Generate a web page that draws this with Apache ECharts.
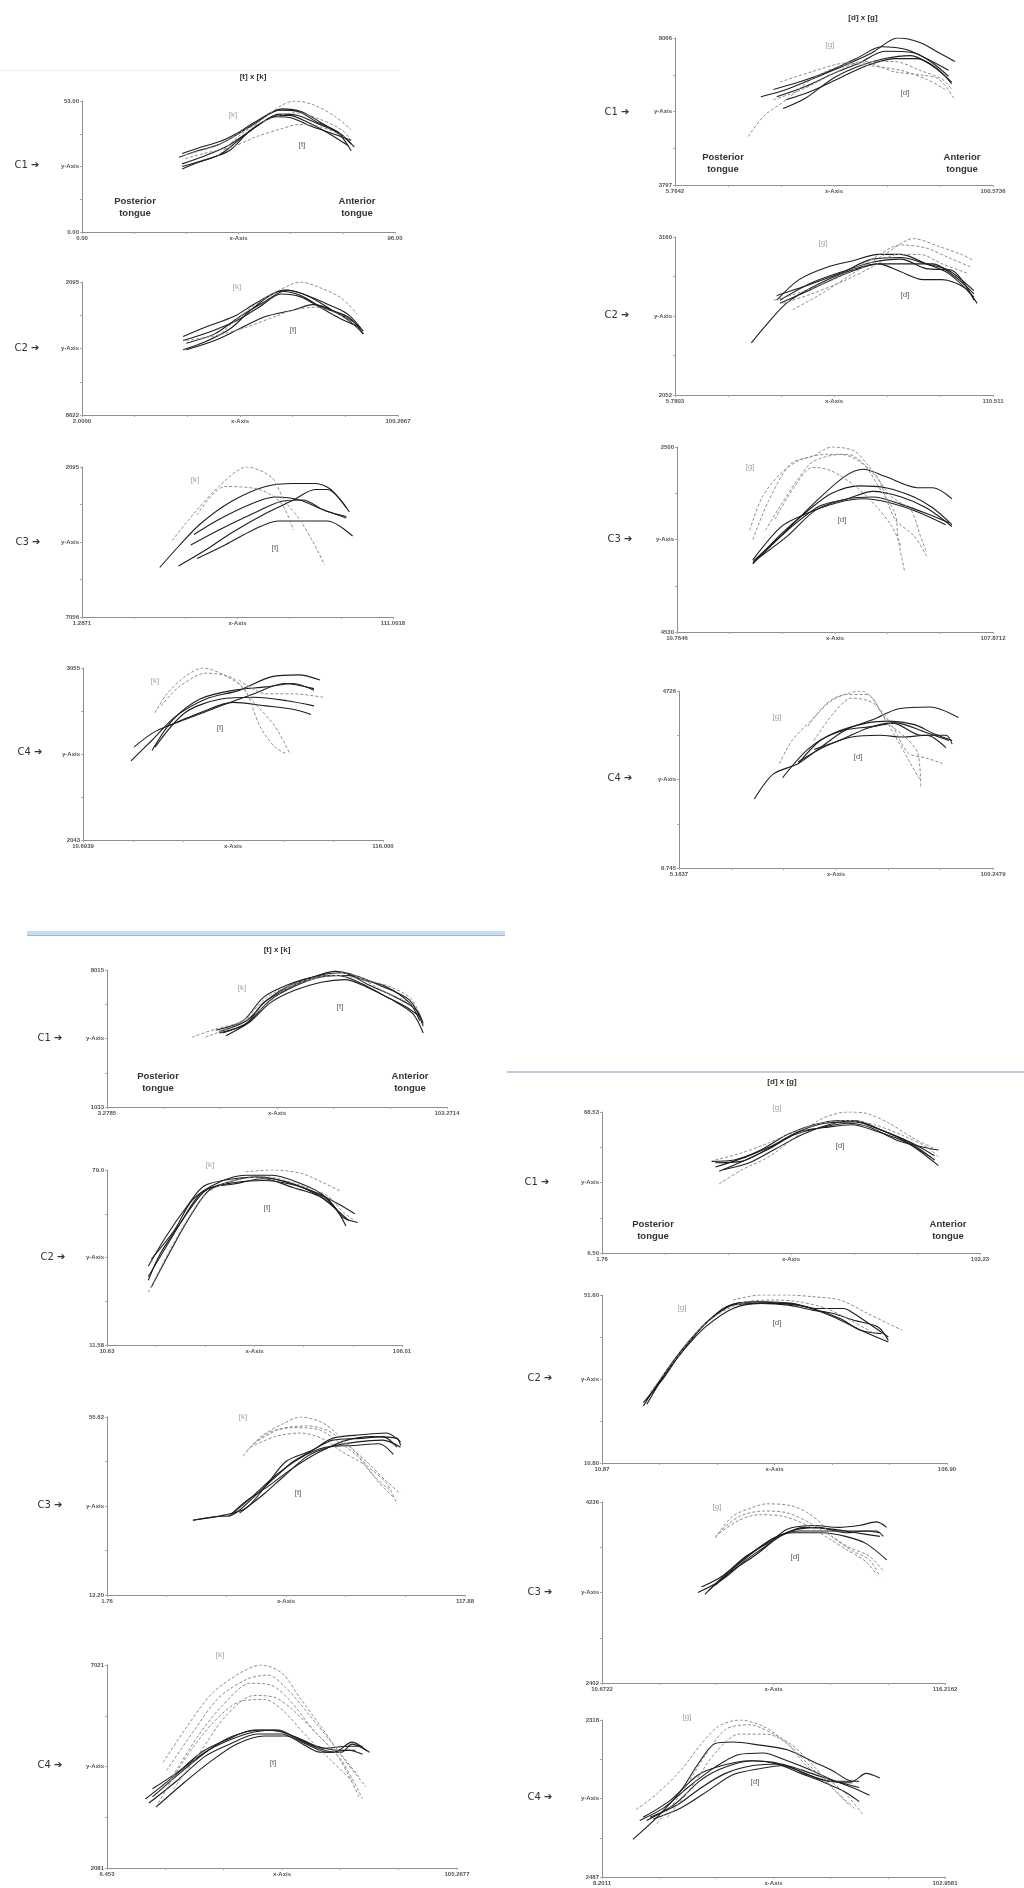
<!DOCTYPE html>
<html><head><meta charset="utf-8">
<script src="https://cdn.jsdelivr.net/npm/echarts/dist/echarts.min.js"></script>
<style>html,body{margin:0;padding:0;background:#fff}#c{width:1024px;height:1888px}</style>
</head><body><div id="c"></div>
<script>
// ===== Tongue contours, values in % of each panel's x / y range =====
// ---- Top block, [t] x [k] ----
const tkTopC1_t = [
 [[31,57],[37,62],[44,67],[50,75],[56,84],[63,93],[69,92],[75,84],[82,76],[87,65]],
 [[32,48],[37,53],[44,59],[50,70],[56,81],[63,90],[69,89],[75,83],[82,75],[86,62]],
 [[32,60],[37,64],[44,69],[50,76],[56,85],[64,94],[70,92],[76,84],[83,74],[86,67]],
 [[32,50],[39,55],[47,62],[54,78],[62,88],[67,87],[73,81],[79,76],[86,70]],
 [[32,52],[38,57],[46,65],[53,76],[61,88],[66,89],[72,84],[79,75],[85,66]]
];
const tkTopC1_k = [
 [[33,56],[39,60],[48,65],[56,73],[64,79],[69,82],[75,81],[82,75],[86,69]],
 [[43,57],[50,73],[57,85],[64,97],[68,100],[74,97],[81,88],[86,78]],
 [[33,59],[43,66],[52,78],[62,88],[68,91],[75,87],[83,78],[86,70]]
];
const tkTopC2_t = [
 [[32,59],[39,66],[48,74],[55,84],[64,94],[70,91],[77,84],[84,76],[89,63]],
 [[32,49],[39,55],[47,65],[54,80],[63,93],[69,90],[76,81],[84,74],[88,65]],
 [[33,54],[42,61],[50,74],[57,84],[65,94],[72,89],[79,79],[86,70],[89,61]],
 [[33,49],[42,56],[50,65],[58,74],[67,79],[73,83],[79,79],[85,70],[89,61]],
 [[32,56],[41,63],[49,71],[56,81],[63,91],[69,89],[76,80],[83,71],[88,66]]
];
const tkTopC2_k = [
 [[33,56],[43,60],[52,66],[61,74],[67,79],[74,81],[81,76],[85,71]],
 [[43,59],[51,76],[58,88],[66,98],[69,100],[75,96],[82,88],[87,76]]
];
const tkTopC3_t = [
 [[25,33],[31,47],[38,62],[48,77],[59,87],[68,89],[75,89],[80,85],[86,70]],
 [[31,34],[40,45],[48,56],[59,69],[68,78],[75,85],[79,85],[85,73]],
 [[36,55],[44,65],[54,75],[62,80],[70,78],[77,72],[85,66]],
 [[35,48],[44,58],[55,69],[64,77],[71,78],[78,71],[85,67]],
 [[37,39],[46,48],[55,58],[63,64],[72,64],[79,64],[87,54]]
];
const tkTopC3_k = [
 [[29,51],[36,69],[44,87],[53,100],[61,93],[65,78],[70,65],[74,51],[78,35]],
 [[37,68],[46,87],[57,85],[64,76],[68,58]]
];
const tkTopC4_t = [
 [[16,46],[23,58],[31,72],[41,82],[52,87],[63,95],[72,96],[79,93]],
 [[17,54],[24,63],[34,70],[46,78],[57,85],[67,91],[77,88]],
 [[23,52],[30,70],[39,82],[50,87],[61,89],[70,91],[77,87]],
 [[24,54],[34,74],[46,82],[57,83],[68,81],[77,78]],
 [[28,66],[39,74],[50,80],[61,78],[70,76],[76,73]]
];
const tkTopC4_k = [
 [[24,74],[28,85],[34,95],[40,100],[48,95],[54,87],[59,66],[64,54],[68,50]],
 [[26,78],[32,89],[41,97],[50,94],[57,80],[64,66],[69,50]],
 [[52,93],[61,85],[70,85],[80,83]]
];
// ---- Top block, [d] x [g] ----
const dgTopC1_d = [
 [[27,60],[35,65],[43,72],[54,82],[62,90],[70,100],[77,97],[83,90],[88,84]],
 [[31,65],[39,70],[48,77],[57,86],[65,94],[73,92],[80,85],[86,78]],
 [[34,52],[41,59],[50,73],[58,81],[66,86],[74,88],[81,81],[87,70]],
 [[32,60],[41,67],[50,76],[58,83],[66,91],[75,90],[81,83],[86,74]],
 [[35,58],[43,64],[52,73],[60,81],[69,86],[76,86],[82,80],[87,69]]
];
const dgTopC1_g = [
 [[23,33],[28,47],[35,58],[43,72],[52,81],[60,83],[69,77],[77,75],[83,72],[88,58]],
 [[31,58],[40,65],[50,76],[59,84],[69,84],[77,78],[84,72],[87,65]],
 [[33,70],[43,77],[54,83],[62,81],[71,78],[79,72],[85,65]]
];
const dgTopC2_d = [
 [[24,33],[29,45],[35,58],[43,68],[54,78],[64,83],[73,83],[81,83],[88,75],[94,64]],
 [[32,60],[39,73],[48,81],[56,85],[64,89],[71,89],[79,83],[86,77],[94,62]],
 [[33,58],[43,67],[54,77],[64,83],[71,78],[78,73],[84,73],[91,68],[95,58]],
 [[32,63],[41,69],[52,77],[62,86],[71,87],[79,83],[86,79],[94,66]],
 [[33,60],[43,71],[54,79],[62,84],[71,86],[79,80],[87,79],[94,60]]
];
const dgTopC2_g = [
 [[37,54],[46,64],[56,77],[66,89],[75,99],[83,94],[90,89],[94,85]],
 [[31,60],[41,66],[52,75],[62,86],[71,95],[79,93],[86,87],[93,81]],
 [[34,58],[43,64],[54,73],[62,81],[70,89],[77,89],[84,83],[92,77]]
];
const dgTopC3_d = [
 [[24,37],[33,52],[43,69],[53,84],[59,88],[66,84],[76,78],[81,78],[87,72]],
 [[24,37],[33,53],[41,65],[49,75],[58,79],[66,78],[75,73],[81,67],[87,58]],
 [[24,38],[35,55],[45,68],[54,72],[62,76],[71,73],[79,67],[87,57]],
 [[24,39],[33,57],[41,64],[51,70],[59,72],[67,70],[76,65],[85,58]],
 [[25,39],[35,52],[44,66],[54,72],[62,73],[71,69],[79,64],[86,59]]
];
const dgTopC3_g = [
 [[23,55],[27,73],[33,86],[39,93],[47,96],[54,96],[59,91],[64,78],[69,64],[70,50],[72,33]],
 [[24,50],[29,71],[36,91],[43,95],[49,100],[56,98],[60,91],[64,82],[69,61],[75,52],[79,41]],
 [[28,55],[33,69],[38,82],[43,92],[52,96],[57,93],[62,86],[68,73],[74,66],[77,52],[79,43]],
 [[31,61],[37,78],[43,89],[49,87],[57,78],[63,68],[68,57],[71,46]]
];
const dgTopC4_d = [
 [[24,39],[30,53],[38,59],[45,68],[53,78],[62,84],[70,90],[80,91],[89,85]],
 [[33,51],[41,67],[49,76],[60,82],[67,83],[75,81],[81,76],[87,72]],
 [[38,59],[45,72],[53,78],[62,80],[69,82],[78,77],[86,72]],
 [[38,60],[47,69],[55,74],[64,75],[71,74],[79,75],[85,68]],
 [[43,67],[51,72],[60,79],[68,82],[77,75],[85,75],[87,70]]
];
const dgTopC4_g = [
 [[32,59],[36,72],[43,85],[49,95],[58,100],[62,95],[66,83],[72,74],[76,65],[77,46]],
 [[41,80],[47,93],[53,98],[60,98],[64,89],[69,74],[76,52],[77,50]],
 [[43,72],[49,87],[55,96],[62,93],[68,80],[73,65],[79,62],[84,59]]
];
// ---- Bottom block, [t] x [k] ----
const tkBotC1_t = [
 [[34,54],[41,61],[46,76],[52,85],[59,93],[67,99],[73,96],[80,89],[89,78],[93,59]],
 [[33,55],[41,63],[47,78],[54,89],[62,96],[69,98],[75,93],[82,88],[89,76],[92,63]],
 [[35,52],[42,62],[48,76],[55,85],[63,91],[70,93],[76,88],[84,78],[90,68],[93,54]],
 [[32,56],[40,63],[46,80],[53,89],[61,95],[68,96],[75,90],[81,82],[88,73],[92,66]],
 [[33,54],[41,61],[48,78],[55,88],[63,95],[71,96],[77,89],[85,80],[91,71],[93,61]]
];
const tkBotC1_k = [
 [[25,51],[32,57],[40,63],[47,80],[54,89],[62,95],[70,98],[76,93],[83,88],[89,80],[92,68]],
 [[29,51],[37,59],[45,71],[52,85],[60,93],[67,96],[75,93],[81,85],[88,77],[91,71]]
];
const tkBotC2_t = [
 [[14,37],[18,52],[25,70],[32,87],[41,93],[50,96],[59,94],[68,89],[75,83],[80,73],[85,70]],
 [[14,45],[20,62],[27,79],[33,91],[43,95],[52,96],[61,93],[70,87],[77,79],[81,68]],
 [[15,33],[21,52],[28,73],[35,89],[44,93],[53,94],[62,92],[71,87],[78,81],[84,75]],
 [[15,49],[23,66],[29,83],[38,93],[47,97],[56,97],[66,92],[73,86],[79,75]],
 [[14,39],[20,56],[27,75],[34,89],[43,92],[53,95],[63,90],[72,85],[78,77],[82,71]]
];
const tkBotC2_k = [
 [[47,99],[56,100],[66,98],[73,93],[79,88]],
 [[14,30],[20,50],[27,71],[34,87],[43,94],[54,96],[66,91],[75,85],[80,76],[84,71]]
];
const tkBotC3_t = [
 [[24,42],[30,44],[35,45],[41,55],[48,68],[52,75],[58,82],[63,88],[71,90],[78,91],[82,86]],
 [[24,42],[33,45],[39,49],[45,63],[50,75],[57,81],[63,87],[71,88],[77,89],[81,83]],
 [[34,44],[41,56],[47,67],[54,77],[61,83],[69,84],[76,85],[80,79]],
 [[35,46],[39,53],[45,61],[51,70],[59,80],[67,87],[74,89],[81,88],[82,84]],
 [[37,46],[44,57],[49,66],[56,78],[62,83],[70,86],[77,87],[82,83]]
];
const tkBotC3_k = [
 [[38,78],[43,89],[49,96],[54,100],[60,97],[64,91],[69,81],[73,72],[78,63],[81,51]],
 [[39,81],[45,91],[52,94],[59,93],[64,87],[70,78],[74,68],[79,59]],
 [[40,83],[47,89],[54,91],[60,88],[66,80],[72,73],[76,63],[80,55]],
 [[41,85],[48,93],[56,95],[62,92],[68,83],[73,74],[78,64],[82,57]]
];
const tkBotC4_t = [
 [[11,34],[19,45],[27,57],[34,63],[42,68],[48,68],[53,65],[59,60],[65,57],[70,62],[74,58]],
 [[12,32],[20,43],[28,55],[35,61],[43,66],[50,66],[55,62],[61,57],[67,57],[70,61],[75,57]],
 [[13,35],[21,47],[29,58],[36,65],[44,68],[50,67],[56,63],[62,59],[69,60],[73,60]],
 [[14,30],[22,42],[30,53],[37,61],[45,65],[51,65],[57,61],[63,57],[69,58],[73,56]],
 [[13,39],[20,47],[28,57],[35,63],[42,67],[49,68],[54,64],[60,60],[66,58],[71,58]]
];
const tkBotC4_k = [
 [[16,52],[23,70],[30,86],[38,96],[44,100],[50,96],[55,84],[61,70],[68,53],[74,40]],
 [[17,48],[25,68],[32,84],[40,93],[46,95],[51,89],[58,75],[65,60],[72,45]],
 [[18,43],[26,65],[33,80],[41,91],[47,90],[52,83],[59,68],[66,55],[72,35]],
 [[19,39],[27,58],[34,75],[42,85],[48,84],[53,78],[60,66],[67,53],[73,34]],
 [[14,30],[22,53],[30,71],[38,82],[45,83],[50,78],[57,65],[64,53],[70,43]]
];
// ---- Bottom block, [d] x [g] ----
const dgBotC1_d = [
 [[29,65],[35,66],[42,73],[49,84],[56,91],[63,94],[68,93],[75,86],[82,78],[88,69]],
 [[31,58],[38,66],[45,75],[52,86],[59,92],[67,93],[74,87],[81,78],[89,62]],
 [[30,61],[38,68],[45,76],[52,86],[59,89],[66,91],[73,86],[80,79],[87,68]],
 [[30,64],[37,65],[44,74],[51,84],[58,89],[65,92],[71,89],[78,80],[85,75],[89,73]],
 [[32,59],[39,64],[46,74],[53,84],[60,91],[67,94],[74,87],[81,79],[88,66]]
];
const dgBotC1_g = [
 [[31,49],[37,59],[44,68],[51,82],[58,95],[65,100],[70,99],[76,92],[82,82],[88,74]],
 [[30,66],[37,71],[44,78],[51,86],[58,92],[65,94],[72,91],[79,84],[86,75],[89,68]]
];
const dgBotC2_d = [
 [[12,34],[17,50],[23,67],[29,81],[36,93],[44,96],[52,95],[59,93],[67,87],[75,79],[83,72]],
 [[12,36],[18,51],[24,69],[30,83],[38,94],[46,95],[54,95],[61,92],[69,86],[75,79],[81,77]],
 [[13,38],[19,55],[25,71],[31,85],[39,95],[47,96],[55,95],[62,92],[70,92],[73,89],[83,75]],
 [[13,35],[18,52],[24,68],[30,81],[38,92],[46,95],[54,94],[61,91],[67,89],[73,85],[80,81],[83,73]]
];
const dgBotC2_g = [
 [[38,97],[46,100],[54,100],[61,99],[69,97],[77,89],[83,83],[87,79]],
 [[14,42],[21,61],[28,79],[34,89],[42,96],[50,97],[57,96],[65,92],[72,85],[79,77]]
];
const dgBotC3_d = [
 [[28,50],[35,57],[42,68],[48,76],[54,85],[62,87],[69,86],[75,87],[80,89],[83,86]],
 [[29,53],[35,59],[42,70],[49,78],[55,84],[63,86],[71,83],[77,84],[81,83]],
 [[30,49],[36,60],[43,71],[50,80],[56,83],[64,83],[71,81],[77,77],[83,68]],
 [[31,51],[37,61],[44,72],[51,81],[58,84],[66,84],[73,84],[80,84],[82,81]],
 [[33,54],[38,62],[45,71],[52,81],[59,86],[67,85],[74,83],[81,81]]
];
const dgBotC3_g = [
 [[33,80],[38,92],[44,97],[48,99],[55,98],[60,94],[64,88],[67,81],[73,73],[78,68],[81,59]],
 [[34,83],[40,92],[47,95],[54,94],[61,88],[67,81],[72,75],[78,70],[82,62]],
 [[33,81],[40,90],[46,93],[53,92],[60,87],[66,80],[71,74],[77,67],[80,60]]
];
const dgBotC4_d = [
 [[9,24],[16,38],[23,55],[28,72],[33,85],[38,86],[46,84],[54,81],[62,73],[67,68],[73,61],[77,66],[81,63]],
 [[11,36],[18,44],[25,57],[33,70],[40,78],[47,79],[54,74],[61,68],[67,62],[73,57],[78,52]],
 [[12,38],[20,49],[28,65],[35,71],[43,74],[50,73],[57,68],[64,62],[70,61],[75,61]],
 [[13,36],[21,46],[29,62],[36,70],[44,74],[51,72],[58,66],[65,60],[71,54],[75,48]],
 [[14,38],[22,46],[29,57],[36,66],[44,71],[52,72],[59,66],[66,61],[73,60]],
 [[15,37],[23,44],[31,55],[38,65],[46,69],[53,71],[61,66],[68,61],[75,57]]
];
const dgBotC4_g = [
 [[10,43],[16,53],[23,68],[29,85],[34,96],[40,100],[47,96],[54,85],[60,70],[66,62],[71,53],[76,40]],
 [[16,34],[23,53],[30,77],[36,94],[43,97],[50,91],[56,83],[62,70],[68,55],[74,43]],
 [[19,38],[26,57],[33,79],[40,91],[48,91],[54,85],[60,72],[67,57],[72,46]]
];

// ---- Tick labels (panel order: top [t]x[k] C1-C4, top [d]x[g] C1-C4, bottom [t]x[k] C1-C4, bottom [d]x[g] C1-C4)
const xMinLabels = ['0.00','2.0000','1.2871','10.6939','5.7642','5.7803','10.7646','5.1637','3.2785','10.63','1.76','6.453','1.76','10.87','10.6722','8.2011'];
const xMaxLabels = ['96.00','100.2667','111.0018','116.000','100.5736','110.511','107.8712','100.2479','103.2714','106.01','117.88','105.2677','103.23','106.90','116.2162','102.9581'];
const yMaxLabels = ['53.00','2095','2095','3055','8066','3160','2500','4726','8015','79.0','55.62','7021','68.53','51.60','4236','2318'];
const yMinLabels = ['0.00','8622','7056','2043','3797','2052','4530','6.745','1033','11.58','12.20','2081','6.50','10.80','2402','2487'];
const xMidLabel = 'x-Axis', yMidLabel = 'y-Axis';
const contextLabels = ['C1','C2','C3','C4'];
const blockTitles = ['[t] x [k]','[d] x [g]','[t] x [k]','[d] x [g]'];
const solidNames = ['[t]','[d]','[t]','[d]'];
const dashedNames = ['[k]','[g]','[k]','[g]'];

const solidSets = [tkTopC1_t,tkTopC2_t,tkTopC3_t,tkTopC4_t, dgTopC1_d,dgTopC2_d,dgTopC3_d,dgTopC4_d,
                   tkBotC1_t,tkBotC2_t,tkBotC3_t,tkBotC4_t, dgBotC1_d,dgBotC2_d,dgBotC3_d,dgBotC4_d];
const dashedSets = [tkTopC1_k,tkTopC2_k,tkTopC3_k,tkTopC4_k, dgTopC1_g,dgTopC2_g,dgTopC3_g,dgTopC4_g,
                    tkBotC1_k,tkBotC2_k,tkBotC3_k,tkBotC4_k, dgBotC1_g,dgBotC2_g,dgBotC3_g,dgBotC4_g];

// ===== layout =====
const grids = [
 [82,101,313,131],[82,282,316,133],[82,467,311,150],[83,668,300,172],
 [675,38,318,147],[675,237,318,158],[677,447,316,185],[679,691,314,177],
 [107,970,340,137],[107,1170,295,175],[107,1417,358,178],[107,1665,350,203],
 [602,1112,378,141],[602,1295,345,168],[602,1502,343,181],[602,1720,343,157]
];
const cLabelPos = [[27,165],[27,348],[28,542],[30,752],[617,112],[617,315],[620,539],[620,778],
                   [50,1038],[53,1257],[50,1505],[50,1765],[537,1182],[540,1378],[540,1592],[540,1797]];
const solidLabelPos = [[302,145],[293,330],[275,548],[220,728],[905,93],[905,295],[842,520],[858,757],
                       [340,1007],[267,1208],[298,1493],[273,1763],[840,1146],[777,1323],[795,1557],[755,1782]];
const dashedLabelPos = [[233,115],[237,287],[195,480],[155,681],[830,45],[823,243],[750,467],[777,717],
                        [242,988],[210,1165],[243,1417],[220,1655],[777,1108],[682,1308],[717,1507],[687,1717]];
const titlePos = [[253,77],[863,18],[277,950],[782,1082]];
const tonguePos = [[[135,207],[357,207]],[[723,163],[962,163]],[[158,1082],[410,1082]],[[653,1230],[948,1230]]];

const near = (a,b,t) => Math.abs(a-b) < t;
const option = {
  backgroundColor: '#fff',
  animation: false,
  grid: grids.map(g => ({left:g[0], top:g[1], width:g[2], height:g[3]})),
  xAxis: grids.map((g,i) => ({
    gridIndex:i, type:'value', min:0, max:100, interval:100/6,
    axisLine:{show:true, onZero:false, lineStyle:{color:'#8f8f8f', width:1}},
    axisTick:{show:true, length:2, lineStyle:{color:'#aaa'}},
    splitLine:{show:false},
    axisLabel:{fontSize:6, fontWeight:'bold', color:'#555', margin:3, fontFamily:'Liberation Sans',
      formatter: v => near(v,0,0.01) ? xMinLabels[i] : near(v,50,0.5) ? xMidLabel : near(v,100,0.01) ? xMaxLabels[i] : ''}
  })),
  yAxis: grids.map((g,i) => ({
    gridIndex:i, type:'value', min:0, max:100, interval:25,
    axisLine:{show:true, onZero:false, lineStyle:{color:'#8f8f8f', width:1}},
    axisTick:{show:true, length:2, lineStyle:{color:'#aaa'}},
    splitLine:{show:false},
    axisLabel:{fontSize:6, fontWeight:'bold', color:'#555', margin:3, fontFamily:'Liberation Sans',
      formatter: v => near(v,0,0.01) ? yMinLabels[i] : near(v,50,0.5) ? yMidLabel : near(v,100,0.01) ? yMaxLabels[i] : ''}
  })),
  series: [],
  graphic: []
};
solidSets.forEach((set,i) => set.forEach(c => option.series.push({
  type:'line', xAxisIndex:i, yAxisIndex:i, data:c, symbol:'none', smooth:0.3, silent:true,
  name: solidNames[Math.floor(i/4)],
  lineStyle:{color:'#1e1e1e', width:1.1}
})));
dashedSets.forEach((set,i) => set.forEach(c => option.series.push({
  type:'line', xAxisIndex:i, yAxisIndex:i, data:c, symbol:'none', smooth:0.3, silent:true,
  name: dashedNames[Math.floor(i/4)],
  lineStyle:{color:'#8d8d8d', width:1, type:[3,2]}
})));

const G = option.graphic;
// faint rule and separators
G.push({type:'rect', shape:{x:0,y:70,width:400,height:1}, style:{fill:'#efefef'}, silent:true});
G.push({type:'rect', shape:{x:27,y:931,width:478,height:4}, style:{fill:'#c9dbf0'}, silent:true});
G.push({type:'rect', shape:{x:27,y:935,width:478,height:1}, style:{fill:'#9fb8d8'}, silent:true});
G.push({type:'rect', shape:{x:507,y:1071,width:517,height:2}, style:{fill:'#b9cde6'}, silent:true});
titlePos.forEach((p,b) => G.push({type:'text', x:p[0], y:p[1], silent:true,
  style:{text:blockTitles[b], fontSize:8, fontWeight:'bold', fontFamily:'Liberation Sans', fill:'#333', align:'center', verticalAlign:'middle'}}));
tonguePos.forEach(pp => {
  G.push({type:'text', x:pp[0][0], y:pp[0][1], silent:true,
    style:{text:'Posterior\ntongue', fontSize:9.5, fontWeight:'bold', fontFamily:'Liberation Sans', fill:'#333', align:'center', verticalAlign:'middle', lineHeight:12}});
  G.push({type:'text', x:pp[1][0], y:pp[1][1], silent:true,
    style:{text:'Anterior\ntongue', fontSize:9.5, fontWeight:'bold', fontFamily:'Liberation Sans', fill:'#333', align:'center', verticalAlign:'middle', lineHeight:12}});
});
cLabelPos.forEach((p,i) => G.push({type:'text', x:p[0], y:p[1], silent:true,
  style:{text:contextLabels[i%4] + ' \u2794', fontSize:10, fontFamily:"'DejaVu Sans'", fill:'#333', align:'center', verticalAlign:'middle'}}));
solidLabelPos.forEach((p,i) => G.push({type:'text', x:p[0], y:p[1], silent:true,
  style:{text:solidNames[Math.floor(i/4)], fontSize:8, fontFamily:'Liberation Sans', fill:'#4d5f70', align:'center', verticalAlign:'middle'}}));
dashedLabelPos.forEach((p,i) => G.push({type:'text', x:p[0], y:p[1], silent:true,
  style:{text:dashedNames[Math.floor(i/4)], fontSize:8, fontFamily:'Liberation Sans', fill:'#a3a3a3', align:'center', verticalAlign:'middle'}}));

echarts.init(document.getElementById('c'), null, {renderer:'canvas'}).setOption(option);
</script>
</body></html>
